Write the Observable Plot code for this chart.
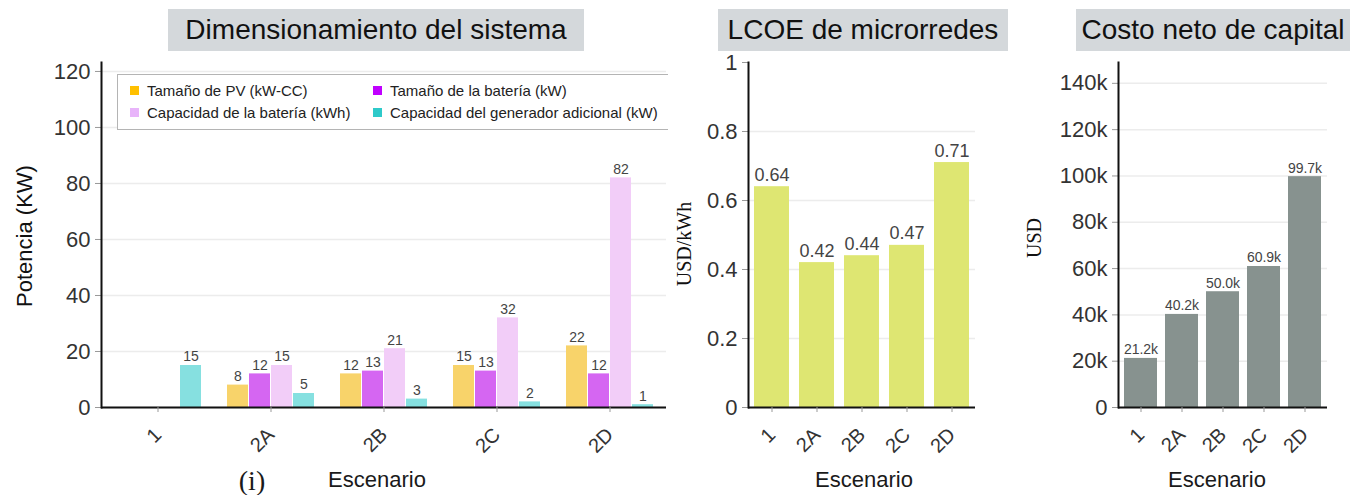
<!DOCTYPE html>
<html><head><meta charset="utf-8">
<script src="https://cdn.jsdelivr.net/npm/d3@7"></script>
<script src="https://cdn.jsdelivr.net/npm/@observablehq/plot@0.6"></script>
<style>
body{margin:0;background:#fff;font-family:"Liberation Sans",Arial,sans-serif;}
#root{position:relative;width:1356px;height:495px;overflow:hidden;background:#fff;}
.panel{position:absolute;top:50px;}
.panel svg{background:transparent !important;overflow:visible;}
.title{position:absolute;top:9px;height:42px;background:#d4d8db;color:#111;font-size:28px;line-height:42px;text-align:center;white-space:nowrap;z-index:5;}
.ylab{position:absolute;transform:translate(-50%,-50%) rotate(-90deg);white-space:nowrap;color:#111;}
.xlab{position:absolute;transform:translateX(-50%);font-size:22px;line-height:24px;color:#1a1a1a;white-space:nowrap;}
#legclip{position:absolute;left:117px;top:74px;width:551px;height:57px;overflow:hidden;z-index:4;}
#legend{position:absolute;left:0;top:0;width:660px;height:56px;border:1px solid #b4b4b4;background:#fff;box-sizing:border-box;}
.li{position:absolute;font-size:15px;line-height:18px;color:#222;white-space:nowrap;}
.sw{display:inline-block;width:9px;height:9px;margin-right:8px;vertical-align:1px;}
</style></head>
<body><div id="root"></div>
<script>
// ---- data ----
const scenarios = ["1", "2A", "2B", "2C", "2D"];
const seriesNames = ["Tamaño de PV (kW-CC)", "Tamaño de la batería (kW)", "Capacidad de la batería (kWh)", "Capacidad del generador adicional (kW)"];
const pvSize = [0, 8, 12, 15, 22];
const batteryPower = [0, 12, 13, 13, 12];
const batteryCapacity = [0, 15, 21, 32, 82];
const gensetCapacity = [15, 5, 3, 2, 1];
const lcoe = [0.64, 0.42, 0.44, 0.47, 0.71];
const netCapitalCost = [21200, 40200, 50000, 60900, 99700];
const powerTicks = [0, 20, 40, 60, 80, 100, 120];
const lcoeTicks = [0, 0.2, 0.4, 0.6, 0.8, 1];
const costTicks = [0, 20000, 40000, 60000, 80000, 100000, 120000, 140000];
const barColors = ["#f8d36a", "#d566f2", "#f2cdf8", "#86e0e0"];
const legendColors = ["#ffc000", "#c000ff", "#e8b4fa", "#2ecaca"];
const lcoeColor = "#dee672";
const costColor = "#87928f";

const root = document.getElementById("root");
const FONT = "Liberation Sans, Arial, sans-serif";

const sizing = scenarios.flatMap((s, i) =>
  [pvSize, batteryPower, batteryCapacity, gensetCapacity].map((arr, j) => ({scenario: s, series: seriesNames[j], value: arr[i]}))
).filter(d => d.value > 0);

function addPanel(left, svg) {
  const div = document.createElement("div");
  div.className = "panel";
  div.style.left = left + "px";
  div.appendChild(svg);
  root.appendChild(div);
}
function addHTML(html) { root.insertAdjacentHTML("beforeend", html); }

const common = {height: 445, marginTop: 12, marginBottom: 88};
const gridStyle = {stroke: "#ececec", strokeOpacity: 1, strokeWidth: 1.5};
const xTickStyle = {tickRotate: -45, tickSize: 5, tickPadding: 19, fontSize: 20, stroke: "#999", fill: "#333", label: null};

// ---- Panel 1 ----
const p1 = Plot.plot({
  ...common, width: 680, marginLeft: 99, marginRight: 12,
  style: {background: "transparent", fontFamily: FONT, color: "#333"},
  fx: {domain: scenarios, padding: 0, label: null},
  x: {domain: seriesNames, paddingInner: 0.045, paddingOuter: 0.5, axis: null},
  y: {domain: [0, 123.2], label: null},
  color: {domain: seriesNames, range: barColors},
  marks: [
    Plot.gridY(powerTicks, gridStyle),
    Plot.barY(sizing, {fx: "scenario", x: "series", y: "value", fill: "series"}),
    Plot.text(sizing, {fx: "scenario", x: "series", y: "value", text: d => String(d.value), lineAnchor: "bottom", dy: -4, fontSize: 14, fill: "#444"}),
    Plot.ruleY([0], {stroke: "#111", strokeWidth: 2}),
    Plot.axisY(powerTicks, {tickSize: 6, tickPadding: 5, fontSize: 22, stroke: "#999", fill: "#333", label: null}),
    Plot.axisFx({anchor: "bottom", ...xTickStyle}),
    Plot.frame({anchor: "left", facetAnchor: "left", stroke: "#111", strokeWidth: 2})
  ]
});
addPanel(0, p1);

// ---- Panel 2 ----
const lcoeData = scenarios.map((s, i) => ({scenario: s, value: lcoe[i]}));
const p2 = Plot.plot({
  ...common, width: 330, marginLeft: 88, marginRight: 15,
  style: {background: "transparent", fontFamily: FONT, color: "#333"},
  x: {domain: scenarios, paddingInner: 0.23, paddingOuter: 0.115, label: null},
  y: {domain: [0, 1], label: null},
  marks: [
    Plot.gridY(lcoeTicks.slice(1, -1), gridStyle),
    Plot.barY(lcoeData, {x: "scenario", y: "value", fill: lcoeColor}),
    Plot.text(lcoeData, {x: "scenario", y: "value", text: d => d.value.toFixed(2), lineAnchor: "bottom", dy: -6, fontSize: 18, fill: "#444"}),
    Plot.ruleY([0], {stroke: "#111", strokeWidth: 2}),
    Plot.axisY(lcoeTicks, {tickSize: 6, tickPadding: 5, fontSize: 22, stroke: "#999", fill: "#333", tickFormat: d => String(d), label: null}),
    Plot.axisX(xTickStyle),
    Plot.frame({anchor: "left", stroke: "#111", strokeWidth: 2})
  ]
});
addPanel(660, p2);

// ---- Panel 3 ----
const costData = scenarios.map((s, i) => ({scenario: s, value: netCapitalCost[i]}));
const kfmt = d => d === 0 ? "0" : (d / 1000) + "k";
const p3 = Plot.plot({
  ...common, width: 356, marginLeft: 118, marginRight: 29,
  style: {background: "transparent", fontFamily: FONT, color: "#333"},
  x: {domain: scenarios, paddingInner: 0.2, paddingOuter: 0.1, label: null},
  y: {domain: [0, 149000], label: null},
  marks: [
    Plot.gridY(costTicks.slice(1), gridStyle),
    Plot.barY(costData, {x: "scenario", y: "value", fill: costColor}),
    Plot.text(costData, {x: "scenario", y: "value", text: d => (d.value / 1000).toFixed(1) + "k", lineAnchor: "bottom", dy: -4, fontSize: 14, fill: "#444"}),
    Plot.ruleY([0], {stroke: "#111", strokeWidth: 2}),
    Plot.axisY(costTicks, {tickSize: 6, tickPadding: 5, fontSize: 22, stroke: "#999", fill: "#333", tickFormat: kfmt, label: null}),
    Plot.axisX(xTickStyle),
    Plot.frame({anchor: "left", stroke: "#111", strokeWidth: 2})
  ]
});
addPanel(1000, p3);

// ---- titles, axis labels, legend ----
addHTML(`<div class="title" style="left:168px;width:416px">Dimensionamiento del sistema</div>`);
addHTML(`<div class="title" style="left:718px;width:290px">LCOE de microrredes</div>`);
addHTML(`<div class="title" style="left:1076px;width:274px">Costo neto de capital</div>`);
addHTML(`<div class="ylab" style="left:25px;top:236px;font-size:22px;font-family:'Liberation Sans',Arial,sans-serif">Potencia (KW)</div>`);
addHTML(`<div class="ylab" style="left:684px;top:244px;font-size:20px;font-family:'Liberation Serif','Times New Roman',serif">USD/kWh</div>`);
addHTML(`<div class="ylab" style="left:1034px;top:238px;font-size:20px;font-family:'Liberation Serif','Times New Roman',serif">USD</div>`);
addHTML(`<div class="xlab" style="left:377px;top:468px">Escenario</div>`);
addHTML(`<div class="xlab" style="left:864px;top:468px">Escenario</div>`);
addHTML(`<div class="xlab" style="left:1217px;top:468px">Escenario</div>`);
addHTML(`<div class="xlab" style="left:252px;top:467px;font-size:28px;line-height:28px;font-family:'Liberation Serif','Times New Roman',serif">(i)</div>`);

const legPos = [[12, 7], [255, 7], [12, 29], [255, 29]];
const items = seriesNames.map((n, i) =>
  `<div class="li" style="left:${legPos[i][0]}px;top:${legPos[i][1]}px"><span class="sw" style="background:${legendColors[i]}"></span>${n}</div>`
).join("");
addHTML(`<div id="legclip"><div id="legend">${items}</div></div>`);
</script>
</body></html>
